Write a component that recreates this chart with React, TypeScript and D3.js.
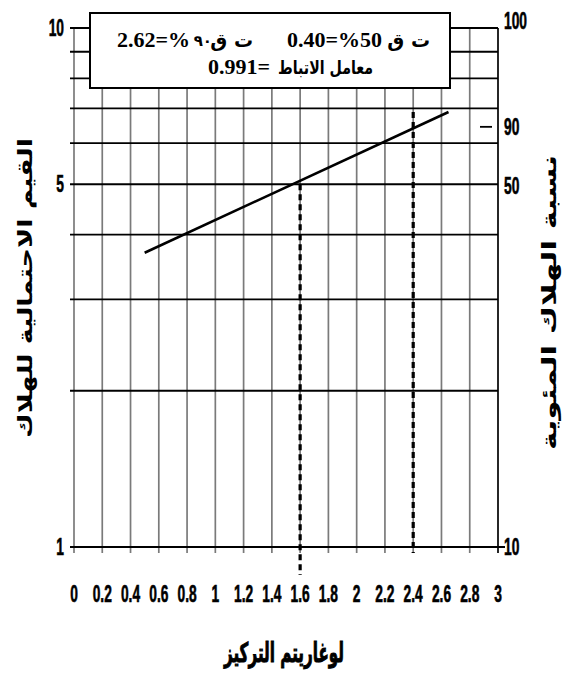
import React from "react";
import * as d3 from "d3";

// Log-concentration axis and probit-style log axis
const xTicks = [0, 0.2, 0.4, 0.6, 0.8, 1, 1.2, 1.4, 1.6, 1.8, 2, 2.2, 2.4, 2.6, 2.8, 3];
const yGrid = [1, 2, 3, 4, 5, 6, 7, 8, 9, 10];
const yLeftLabels = [10, 5, 1];
// right-hand mortality percentages and the probability value each sits on
const rightLabels = ["100", "90", "50", "10"];
const rightLabelAt = [10.3, 6.45, 4.95, 1];

// fitted regression line (log concentration, probability value)
const fitX = [0.5, 2.65];
const fitY = [3.69, 6.89];

// drop lines for LC50 and LC90
const dropX = [1.6, 2.4];
const dropTop = [5, 6.89];
const dropBelow = [28, 6];

const W = 567;
const H = 675;
const plot = { left: 74, right: 498, top: 28, bottom: 547 };

const numFont = "'Liberation Sans', Arial, sans-serif";
const arFont = "'DejaVu Sans', sans-serif";
const serif = "'Liberation Serif', 'DejaVu Serif', serif";
const NARROW = 0.6;

function NarrowText({ x, y, anchor, children }: { x: number; y: number; anchor: string; children: string }) {
  return (
    <g transform={`translate(${x},${y}) scale(${NARROW},1)`}>
      <text
        x={0}
        y={0}
        textAnchor={anchor}
        fontFamily={numFont}
        fontWeight="bold"
        fontSize={23}
        fill="#000"
        stroke="#000"
        strokeWidth={0.6}
      >
        {children}
      </text>
    </g>
  );
}

export default function App() {
  const x = d3.scaleLinear().domain([0, 3]).range([plot.left, plot.right]);
  const y = d3.scaleLog().domain([1, 10]).range([plot.bottom, plot.top]);
  const line = d3
    .line<number>()
    .x((_, i) => x(fitX[i]))
    .y((d) => y(d));

  return (
    <svg
      width={W}
      height={H}
      style={{ position: "absolute", left: 0, top: 0, background: "#fff" }}
    >
      {/* vertical grid */}
      {xTicks.map((t) => (
        <line
          key={"v" + t}
          x1={x(t)}
          x2={x(t)}
          y1={plot.top}
          y2={plot.bottom + 6}
          stroke={t === 3 ? "#000" : "#7a7a7a"}
          strokeWidth={1.7}
        />
      ))}
      {/* horizontal grid */}
      {yGrid.map((v) => (
        <line
          key={"h" + v}
          x1={plot.left - 4}
          x2={v === 1 ? plot.right + 7 : plot.right}
          y1={y(v)}
          y2={y(v)}
          stroke="#000"
          strokeWidth={1.8}
        />
      ))}
      {/* short mark beside the 90 label */}
      <line
        x1={plot.right - 18}
        x2={plot.right - 6}
        y1={y(rightLabelAt[1])}
        y2={y(rightLabelAt[1])}
        stroke="#000"
        strokeWidth={1.8}
      />

      {/* regression line */}
      <path d={line(fitY) || ""} fill="none" stroke="#000" strokeWidth={2.6} />

      {/* dashed drop lines */}
      {dropX.map((d, i) => (
        <line
          key={"d" + d}
          x1={x(d)}
          x2={x(d)}
          y1={y(dropTop[i])}
          y2={y(1) + dropBelow[i]}
          stroke="#000"
          strokeWidth={3.2}
          strokeDasharray="6,4"
        />
      ))}

      {/* legend box */}
      <rect x={90} y={13} width={360} height={75} fill="#fff" stroke="#000" strokeWidth={2} />
      <text x={117} y={47} fontFamily={serif} fontWeight="bold" fontSize={22} fill="#000">2.62=%</text>
      <text x={212} y={46} textAnchor="end" fontFamily={arFont} fontWeight="bold" fontSize={15} fill="#000">٩٠</text>
      <text x={253} y={47} textAnchor="end" fontFamily={arFont} fontWeight="bold" fontSize={19} fill="#000">ت ق</text>
      <text x={287} y={47} fontFamily={serif} fontWeight="bold" fontSize={22} fill="#000">0.40=%50</text>
      <text x={430} y={47} textAnchor="end" fontFamily={arFont} fontWeight="bold" fontSize={19} fill="#000">ت ق</text>
      <text x={208} y={74} fontFamily={serif} fontWeight="bold" fontSize={22} fill="#000">0.991=</text>
      <text
        x={278}
        y={74}
        textLength={95}
        lengthAdjust="spacingAndGlyphs"
        fontFamily={arFont}
        fontWeight="bold"
        fontSize={19}
        fill="#000"
      >
        معامل الاتباط
      </text>

      {/* tick labels */}
      {xTicks.map((t) => (
        <NarrowText key={"xt" + t} x={x(t)} y={602} anchor="middle">
          {String(t)}
        </NarrowText>
      ))}
      {yLeftLabels.map((v) => (
        <NarrowText key={"yl" + v} x={plot.left - 10} y={y(v) + 8} anchor="end">
          {String(v)}
        </NarrowText>
      ))}
      {rightLabels.map((s, i) => (
        <NarrowText key={"yr" + s} x={plot.right + 6} y={y(rightLabelAt[i]) + 8} anchor="start">
          {s}
        </NarrowText>
      ))}

      {/* axis titles */}
      <text
        x={224}
        y={662}
        textLength={120}
        lengthAdjust="spacingAndGlyphs"
        fontFamily={arFont}
        fontWeight="bold"
        fontSize={27}
        fill="#000"
        stroke="#000"
        strokeWidth={1}
      >
        لوغاريتم التركيز
      </text>
      <g transform="translate(25,438) rotate(-90)">
        <text
          x={0}
          y={0}
          dy="0.35em"
          textLength={300}
          lengthAdjust="spacingAndGlyphs"
          fontFamily={arFont}
          fontWeight="bold"
          fontSize={20}
          fill="#000"
        >
          القيم الاحتمالية للهلاك
        </text>
      </g>
      <g transform="translate(549,450) rotate(-90)">
        <text
          x={0}
          y={0}
          dy="0.35em"
          textLength={295}
          lengthAdjust="spacingAndGlyphs"
          fontFamily={arFont}
          fontWeight="bold"
          fontSize={20}
          fill="#000"
        >
          نسبة الهلاك المئوية
        </text>
      </g>
    </svg>
  );
}
